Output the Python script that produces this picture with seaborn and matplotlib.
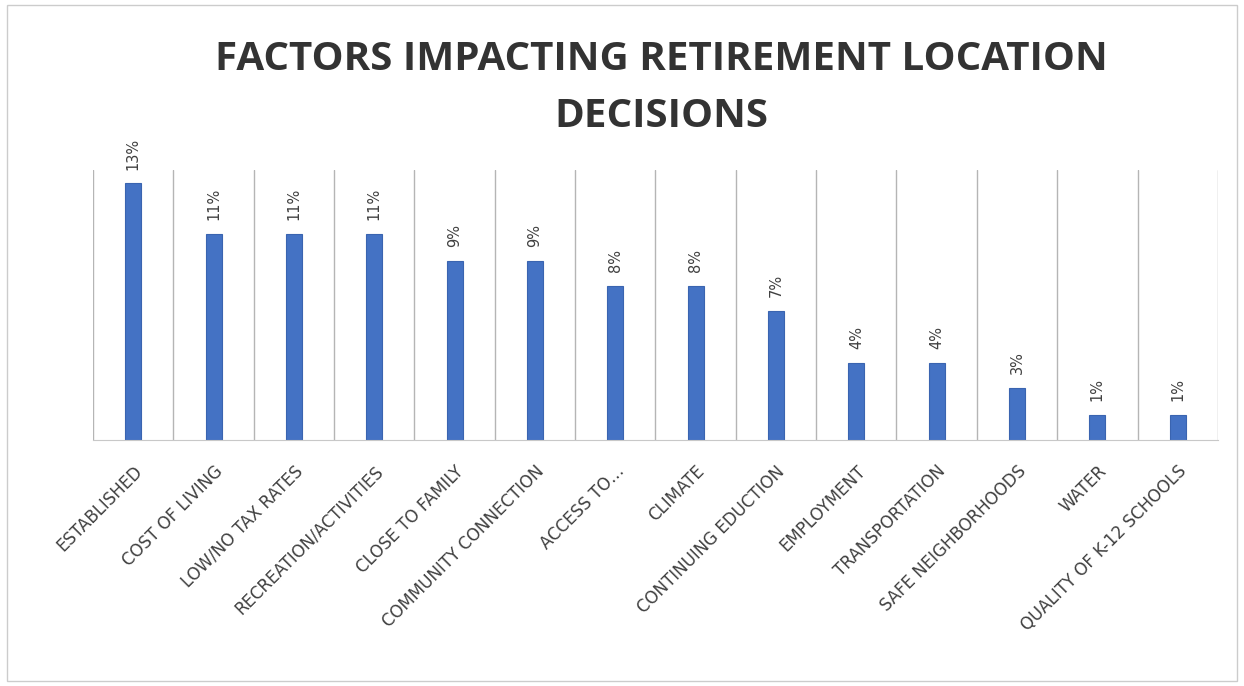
import matplotlib
matplotlib.use("Agg")
import matplotlib.pyplot as plt
import matplotlib.patches as patches
import seaborn as sns

# ===== data =====
categories = ["ESTABLISHED", "COST OF LIVING", "LOW/NO TAX RATES", "RECREATION/ACTIVITIES",
              "CLOSE TO FAMILY", "COMMUNITY CONNECTION", "ACCESS TO…", "CLIMATE",
              "CONTINUING EDUCTION", "EMPLOYMENT", "TRANSPORTATION", "SAFE NEIGHBORHOODS",
              "WATER", "QUALITY OF K-12 SCHOOLS"]
values = [13.3, 10.7, 10.7, 10.7, 9.3, 9.3, 8.0, 8.0, 6.7, 4.0, 4.0, 2.7, 1.3, 1.3]
value_labels = ["13%", "11%", "11%", "11%", "9%", "9%", "8%", "8%", "7%", "4%", "4%", "3%", "1%", "1%"]
title_lines = ["FACTORS IMPACTING RETIREMENT LOCATION", "DECISIONS"]

sns.set_style("white")
plt.rcParams["font.family"] = ["DejaVu Sans"]

fig = plt.figure(figsize=(12.44, 6.86), dpi=100)
ax = fig.add_axes([0.0748, 0.3586, 0.9042, 0.3936])

sns.barplot(x=categories, y=values, color="#4472C4", width=0.2, saturation=1,
            edgecolor="#3A64B0", linewidth=0.8, ax=ax)
ax.set_xlim(-0.5, len(categories) - 0.5)
ax.set_ylim(0, 14)

# vertical gridlines at category boundaries
ax.set_xticks([i - 0.5 for i in range(len(categories) + 1)], minor=True)
ax.grid(which="minor", axis="x", color="#b5b5b5", linewidth=1.0)
ax.tick_params(axis="x", which="both", length=0)
ax.set_yticks([])
for s in ["top", "left", "right"]:
    ax.spines[s].set_visible(False)
ax.spines["bottom"].set_color("#c8c8c8")
ax.set_xlabel(""); ax.set_ylabel("")

ax.set_xticks(range(len(categories)))
ax.set_xticklabels(categories, rotation=45, ha="right", va="top", rotation_mode="anchor",
                   fontsize=12, color="#404040")
ax.tick_params(axis="x", pad=16)

for i, (v, lab) in enumerate(zip(values, value_labels)):
    ax.annotate(lab, (i, v), xytext=(0, 10), textcoords="offset points", rotation=90,
                ha="center", va="bottom", fontsize=10.5, color="#404040")

for y, line in zip([0.898, 0.815], title_lines):
    fig.text(0.532, y, line, ha="center", va="baseline", fontsize=29,
             fontweight="bold", color="#333333", family=["Open Sans", "DejaVu Sans"])

fig.patches.append(patches.Rectangle((0.006, 0.008), 0.988, 0.984, transform=fig.transFigure,
                                     fill=False, edgecolor="#cccccc", linewidth=1))

fig.savefig("out.png", dpi=100)
